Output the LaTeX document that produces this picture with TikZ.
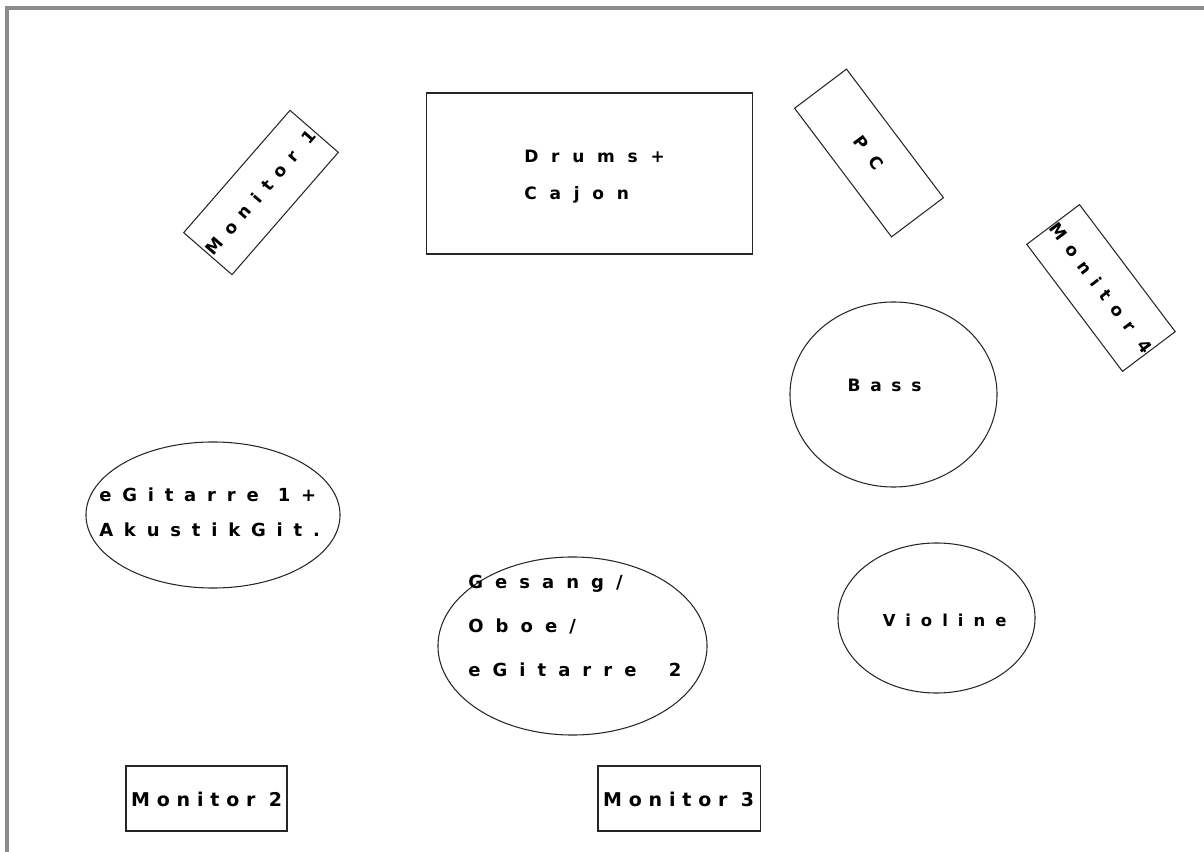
\documentclass[tikz,border=0pt]{standalone}
\usepackage{fontspec}
\setmainfont{DejaVu Sans}
\usetikzlibrary{shapes.geometric}
% font size, line skip, letter spacing
\newcommand\spaced[3]{\fontsize{#1}{#2}\selectfont\bfseries\addfontfeature{LetterSpace=#3}}
\tikzset{
  box/.style={draw=black!85,line width=0.75pt,inner sep=0pt},
  oval/.style={box,ellipse},
  lbl/.style={inner sep=0pt,anchor=base west,align=left}
}

\begin{document}
\begin{tikzpicture}[x=0.025cm,y=-0.025cm]
  \useasboundingbox (0,0) rectangle (1204,852);
  % frame edges
  \draw[black!45,line width=2.5pt] (7,852)--(7,8)--(1204,8);
  % back line
  \node[box,minimum width=8.125cm,minimum height=4.025cm] (drums) at (589.5,173.5) {};
  \node[lbl,font=\spaced{12.1pt}{27pt}{75}] (drumstxt) at (524,200) {Drums+\\Cajon};
  \node[box,rotate=49,minimum width=4.05cm,minimum height=1.6cm,
    font=\spaced{12.1pt}{14pt}{55}] (mon1) at (261,192.5) {Monitor 1};
  \node[box,rotate=-53,minimum width=4.025cm,minimum height=1.625cm,
    font=\spaced{12.1pt}{14pt}{73}] (pc) at (869,153) {PC};
  \node[box,rotate=-53,minimum width=3.975cm,minimum height=1.65cm,
    font=\spaced{12.1pt}{14pt}{55}] (mon4) at (1101,288) {Monitor 4};
  % musicians
  \node[oval,minimum width=5.175cm,minimum height=4.625cm] (bass) at (893.5,394.5) {};
  \node[lbl,font=\spaced{12.1pt}{14pt}{57}] (basstxt) at (847.3,391.7) {Bass};
  \node[oval,minimum width=6.35cm,minimum height=3.65cm] (git) at (213,515) {};
  \node[lbl,font=\spaced{12.8pt}{24.9pt}{60}] (gittxt) at (99,536.7)
    {eGitarre\hspace{1.5pt} 1+\\AkustikGit.};
  \node[oval,minimum width=6.725cm,minimum height=4.45cm] (voc) at (572.5,646) {};
  \node[lbl,font=\spaced{12.8pt}{31.3pt}{67}] (voctxt) at (468,676.7)
    {Gesang/\\Oboe/\\eGitarre\hspace{10pt} 2};
  \node[oval,minimum width=4.925cm,minimum height=3.75cm] (vio) at (936.5,618) {};
  \node[lbl,font=\spaced{11.7pt}{14pt}{61}] (viotxt) at (882.5,626) {Violine};
  % front monitors
  \node[box,minimum width=4.025cm,minimum height=1.625cm] (mon2) at (206.5,798.5) {};
  \node[lbl,font=\spaced{13.5pt}{16pt}{36}] (mon2txt) at (130.8,806) {Monitor 2};
  \node[box,minimum width=4.05cm,minimum height=1.625cm] (mon3) at (679,798.5) {};
  \node[lbl,font=\spaced{13.5pt}{16pt}{36}] (mon3txt) at (602.8,806) {Monitor 3};
\end{tikzpicture}
\end{document}
